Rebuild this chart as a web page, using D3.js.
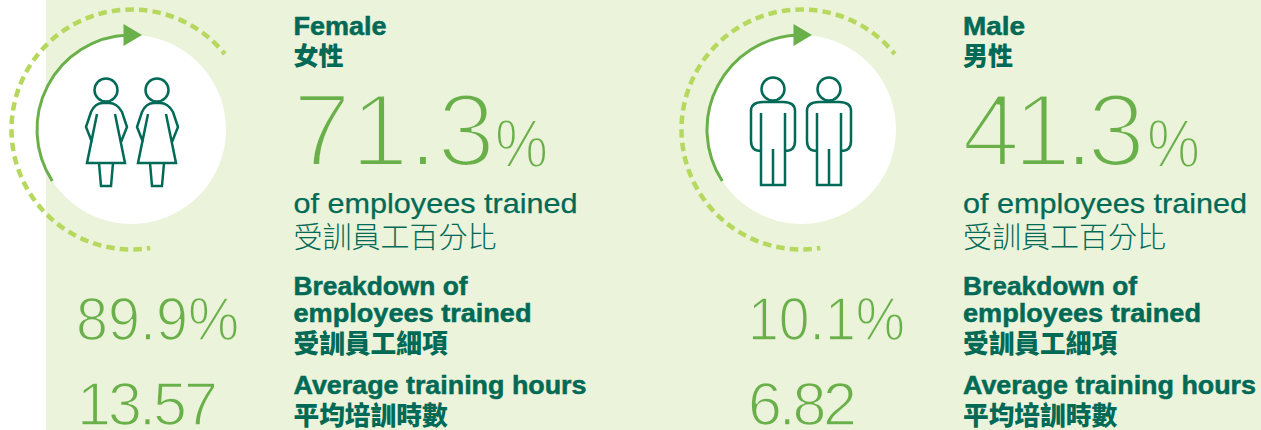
<!DOCTYPE html>
<html>
<head>
<meta charset="utf-8">
<script src="https://cdn.jsdelivr.net/npm/d3@7"></script>
<style>
  html, body { margin: 0; padding: 0; background: #fff; overflow: hidden; }
  svg { display: block; }
  .head { font-family: "Liberation Sans", sans-serif; font-weight: 700; fill: #006a56; stroke: #006a56; stroke-width: 0.5; }
  .sub { font-family: "Liberation Sans", sans-serif; fill: #006a56; stroke: #006a56; stroke-width: 0.25; }
  .cjk { font-family: "Noto Sans CJK TC", sans-serif; fill: #006a56; }
  /* no light Helvetica here, so thin the regular cut with a background coloured stroke */
  .num { font-family: "Liberation Sans", sans-serif; fill: #6ab04a; stroke: #ebf3da; }
</style>
</head>
<body>
<svg width="1261" height="430"></svg>
<script>
const width = 1261,
    height = 430;

const genders = ["Female", "Male"];
const gendersZh = ["女性", "男性"];
const trainedPct = ["71.3", "41.3"];
const breakdownPct = ["89.9%", "10.1%"];
const avgHours = ["13.57", "6.82"];
const dashedArc = [171, 411];
const solidArc = [237, 358];
const pctLabel = "of employees trained";
const pctLabelZh = "受訓員工百分比";
const breakdownLabel = ["Breakdown of", "employees trained"];
const breakdownZh = "受訓員工細項";
const hoursLabel = "Average training hours";
const hoursZh = "平均培訓時數";

const svg = d3.select("svg");

const angle = d3.scaleLinear().domain([0, 360]).range([-Math.PI / 2, 1.5 * Math.PI]);

const arcPath = (r, range) => {
    const p = d3.path();
    p.arc(0, 0, r, angle(range[0]), angle(range[1]));
    return p.toString();
};

// pictograms, relative to the head centre
const femaleBody =
    "M-14,52 L-20,37 L-15,22 Q-11,13 -3,13 L3,13 Q11,13 16,22 L21,37 L15,52 " +
    "M-9,24 L-19,73 L19,73 L9,24 M-7,73 L-5,96 L5,96 L7,73";
const maleBody =
    "M-12,62 Q-22,62 -22,52 L-22,22 Q-22,13 -10,13 L10,13 Q22,13 22,22 L22,52 Q22,62 12,62 " +
    "M-12,24 L-12,96 L12,96 L12,24 M0,60 L0,96";
const iconHeads = [
    [106, 90, 157, 90],
    [103, 89, 159, 89],
];

svg.append("rect")
    .attr("x", 46)
    .attr("width", width - 46)
    .attr("height", height)
    .attr("fill", "#ebf3da");

const panelX = d3.scaleOrdinal().domain(genders).range([0, 670]);

const panels = svg
    .selectAll("g.panel")
    .data(genders)
    .enter()
    .append("g")
    .attr("class", "panel")
    .attr("transform", (d) => `translate(${panelX(d)}, 0)`);

panels.each(function (d, i) {
    const g = d3.select(this);
    const textX = i === 0 ? 293.5 : 293;

    const gauge = g.append("g").attr("transform", "translate(131.5, 129.5)");
    gauge.append("circle").attr("r", 94.5).attr("fill", "#fff");
    gauge.append("path")
        .attr("d", arcPath(120, dashedArc))
        .attr("fill", "none")
        .attr("stroke", "#b6d85f")
        .attr("stroke-width", 4.5)
        .attr("stroke-dasharray", "8.5 5.1")
        .attr("stroke-dashoffset", 5);
    gauge.append("path")
        .attr("d", arcPath(94.5, solidArc))
        .attr("fill", "none")
        .attr("stroke", "#6ab04a")
        .attr("stroke-width", 3);
    gauge.append("path")
        .attr("d", "M-8,-105.5 L10.5,-94.5 L-8,-83.5 Z")
        .attr("fill", "#6ab04a");

    const heads = iconHeads[i];
    [0, 2].forEach((k) => {
        const icon = g.append("g")
            .attr("transform", `translate(${heads[k]}, ${heads[k + 1]})`)
            .attr("fill", "none")
            .attr("stroke", "#006a56")
            .attr("stroke-width", 2.5);
        icon.append("circle").attr("r", 11.5);
        icon.append("path").attr("d", i === 0 ? femaleBody : maleBody);
    });

    const addText = (cls, x, y, size, str, len, adjust) => {
        const t = g.append("text")
            .attr("class", cls)
            .attr("x", x)
            .attr("y", y)
            .attr("font-size", size)
            .text(str);
        if (len) t.attr("textLength", len).attr("lengthAdjust", adjust || "spacingAndGlyphs");
        return t;
    };

    addText("head", textX, 35, 25, genders[i], i === 0 ? 93 : 62);
    addText("cjk", textX, 65, 25, gendersZh[i]).attr("font-weight", 900);

    addText("num", i === 0 ? 293 : 292, 166, 104, trainedPct[i], i === 0 ? 202 : 183, "spacing").style("stroke-width", 4);
    addText("num", i === 0 ? 495 : 477, 167, 68, "%", 53).style("stroke-width", 2);

    addText("sub", textX, 213, 28, pctLabel, 284);
    addText("cjk", textX, 248, 29, pctLabelZh).attr("font-weight", 300);

    addText("head", textX, 295, 25, breakdownLabel[0], 174);
    addText("head", textX, 322, 25, breakdownLabel[1], 238);
    addText("cjk", textX, 353, 25.7, breakdownZh).attr("font-weight", 900);
    addText("head", textX, 394, 25, hoursLabel, 293);
    addText("cjk", textX, 425, 25.7, hoursZh).attr("font-weight", 900);

    addText("num", i === 0 ? 76 : 78, 340, 61, breakdownPct[i], i === 0 ? 163 : 157).style("stroke-width", 1.6);
    addText("num", i === 0 ? 77 : 78, 425, 61, avgHours[i], i === 0 ? 141 : 109, "spacing").style("stroke-width", 1.6);
});
</script>
</body>
</html>
